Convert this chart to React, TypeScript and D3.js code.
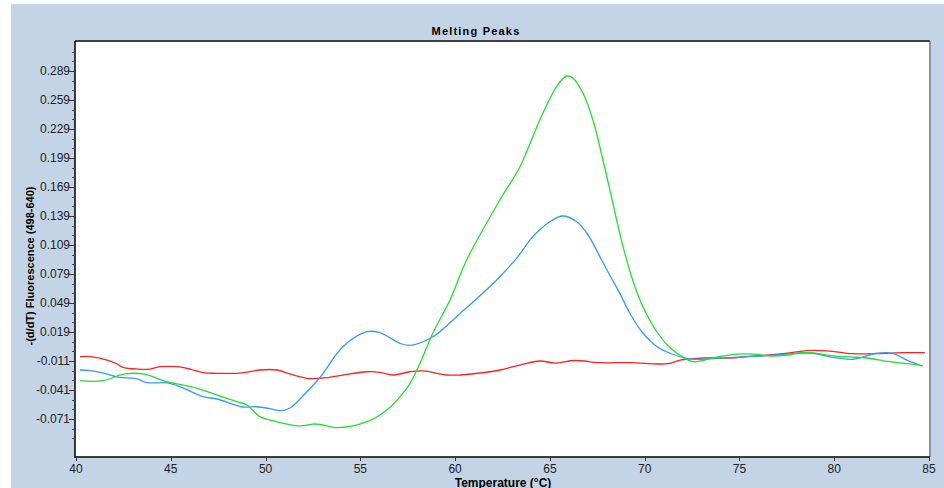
import React from "react";
import * as d3 from "d3";

const title = "Melting Peaks";
const xLabel = "Temperature (°C)";
const yLabel = "-(d/dT) Fluorescence (498-640)";
const xTicks = [40, 45, 50, 55, 60, 65, 70, 75, 80, 85];
const yTicks = [-0.071, -0.041, -0.011, 0.019, 0.049, 0.079, 0.109, 0.139, 0.169, 0.199, 0.229, 0.259, 0.289];

const redSeries: [number, number][] = [
  [40.21, -0.0065], [40.74, -0.0065], [41.64, -0.01], [42.16, -0.0141], [42.48, -0.0175],
  [43.22, -0.0193], [43.9, -0.0193], [44.43, -0.0169], [45.33, -0.0169], [46.01, -0.0193],
  [46.7, -0.0231], [47.44, -0.0237], [48.49, -0.0237], [49.18, -0.0221], [49.7, -0.0203],
  [50.6, -0.0203], [51.29, -0.0244], [52.18, -0.0289], [52.87, -0.0289], [53.24, -0.0283],
  [54.08, -0.0255], [55.35, -0.0221], [56.03, -0.0227], [56.72, -0.0255], [57.62, -0.0221],
  [58.3, -0.0213], [59.57, -0.0255], [60.25, -0.0255], [61.31, -0.0234], [62.36, -0.0203],
  [63.42, -0.0152], [64.47, -0.011], [65.26, -0.0131], [66.32, -0.0105], [67.64, -0.0127],
  [69.22, -0.0127], [71.22, -0.0138], [71.86, -0.01], [73.18, -0.0079], [74.49, -0.0079],
  [75.55, -0.0063], [76.6, -0.0048], [77.66, -0.0027], [78.56, -0.0003], [79.77, -0.0007],
  [80.93, -0.0034], [82.41, -0.0034], [83.57, -0.0024], [84.78, -0.0024],
];

const greenSeries: [number, number][] = [
  [40.21, -0.0314], [41.42, -0.0314], [42.58, -0.0244], [43.53, -0.0244], [44.8, -0.0324],
  [46.38, -0.0392], [47.44, -0.0462], [48.49, -0.0531], [49.02, -0.0565], [49.7, -0.0686],
  [50.23, -0.072], [51.81, -0.0782], [52.5, -0.0762], [52.87, -0.0765], [53.77, -0.08],
  [55.35, -0.0738], [56.4, -0.0617], [57.46, -0.0389], [57.99, -0.0203], [58.83, 0.018],
  [59.73, 0.0521], [60.61, 0.0935], [62.36, 0.1556], [63.42, 0.19], [64.47, 0.2383],
  [65.35, 0.2728], [65.88, 0.2838], [66.21, 0.2818], [66.74, 0.2662], [67.27, 0.2383],
  [67.8, 0.1969], [68.32, 0.1525], [68.85, 0.108], [69.38, 0.072], [69.91, 0.045],
  [70.65, 0.019], [71.33, 0.003], [72.02, -0.0069], [72.54, -0.0117], [73.81, -0.0069],
  [74.86, -0.0038], [75.71, -0.0038], [76.6, -0.0058], [77.5, -0.0048], [78.19, -0.0024],
  [78.87, -0.0027], [79.93, -0.0058], [80.98, -0.0069], [81.72, -0.0079], [82.93, -0.0117],
  [84.51, -0.0151],
];

const blueSeries: [number, number][] = [
  [40.21, -0.0203], [40.74, -0.021], [41.42, -0.0234], [42.16, -0.0275], [43.22, -0.0296],
  [43.74, -0.0334], [44.8, -0.0337], [45.49, -0.0376], [46.7, -0.0479], [47.44, -0.0503],
  [48.81, -0.0586], [49.55, -0.0583], [50.23, -0.0603], [50.76, -0.0624], [51.29, -0.0596],
  [51.97, -0.0472], [52.87, -0.0281], [54.08, 0.0038], [55.35, 0.0193], [56.03, 0.0183],
  [57.09, 0.0073], [57.62, 0.0051], [58.83, 0.0141], [59.57, 0.0258], [60.25, 0.038],
  [61.47, 0.0593], [62.36, 0.0762], [63.26, 0.0956], [64.1, 0.1176], [65.0, 0.1331],
  [65.69, 0.139], [66.42, 0.1331], [66.95, 0.1214], [67.64, 0.0969], [68.01, 0.0831],
  [68.69, 0.059], [69.22, 0.0384], [69.91, 0.0177], [70.65, 0.0038], [71.33, -0.003],
  [72.23, -0.0082], [72.91, -0.0092], [74.65, -0.0072], [76.44, -0.0055], [78.19, -0.003],
  [78.87, -0.003], [79.93, -0.0072], [80.98, -0.0092], [82.25, -0.003], [83.09, -0.003],
  [83.83, -0.01], [84.67, -0.0162],
];

const series = [
  { name: "red", color: "#ff2020", data: redSeries },
  { name: "blue", color: "#3399ff", data: blueSeries },
  { name: "green", color: "#22dd33", data: greenSeries },
];

export default function App() {
  const W = 944, H = 488;
  const L = 75, R = 929, T = 41, B = 457;
  const x = d3.scaleLinear().domain([40, 85]).range([L + 1, R]);
  const y = d3.scaleLinear().domain([-0.1103, 0.32]).range([B, T]);
  const line = d3.line<[number, number]>()
    .x((d) => x(d[0]))
    .y((d) => y(d[1]))
    .curve(d3.curveCatmullRom.alpha(0.5));
  const minor: number[] = [];
  for (let i = -10; i <= 30; i++) {
    const v = +(0.009 + i * 0.01).toFixed(3);
    if (v > -0.1103 && v < 0.32 && !yTicks.some((t) => Math.abs(t - v) < 1e-6)) minor.push(v);
  }
  const font = "'Liberation Sans', Arial, sans-serif";
  return (
    <svg width={W} height={H} style={{ position: "fixed", left: 0, top: 0 }} fontFamily={font}>
      <rect x={0} y={0} width={W} height={H} fill="#ffffff" />
      <rect x={11} y={4} width={W - 11} height={H - 4} fill="#c2d4e5" />
      <text x={476} y={35} textAnchor="middle" fontSize={11} fontWeight="bold" letterSpacing={1.2} fill="#000">
        {title}
      </text>
      <rect x={L} y={T} width={R - L} height={B - T} fill="#ffffff" />
      <clipPath id="plotclip">
        <rect x={L + 1} y={T + 1} width={R - L - 1} height={B - T - 1} />
      </clipPath>
      <g clipPath="url(#plotclip)">
        {series.map((s) => (
          <path key={s.name} d={line(s.data) || ""} fill="none" stroke={s.color} strokeWidth={1.3} />
        ))}
      </g>
      <line x1={L} x2={R + 1} y1={T} y2={T} stroke="#404040" strokeWidth={2} />
      <line x1={R + 1} x2={R + 1} y1={T} y2={B} stroke="#808080" strokeWidth={1.5} />
      <line x1={L} x2={L} y1={T} y2={B + 1} stroke="#000" strokeWidth={1.5} />
      <line x1={L} x2={R + 1} y1={B} y2={B} stroke="#000" strokeWidth={1.5} />
      {minor.map((v) => (
        <line key={"m" + v} x1={L - 3} x2={L} y1={Math.round(y(v)) + 0.5} y2={Math.round(y(v)) + 0.5} stroke="#444" />
      ))}
      {yTicks.map((v) => (
        <g key={"y" + v}>
          <line x1={L - 6} x2={L} y1={Math.round(y(v)) + 0.5} y2={Math.round(y(v)) + 0.5} stroke="#333" />
          <text x={L - 5} y={y(v) + 4} textAnchor="end" fontSize={12} fill="#222">
            {v.toFixed(3)}
          </text>
        </g>
      ))}
      {xTicks.map((v) => (
        <g key={"x" + v}>
          <line x1={Math.round(x(v)) + 0.5} x2={Math.round(x(v)) + 0.5} y1={B} y2={B + 4} stroke="#333" />
          <text x={x(v)} y={B + 16} textAnchor="middle" fontSize={12} fill="#222">
            {v}
          </text>
        </g>
      ))}
      <text x={503} y={487} textAnchor="middle" fontSize={12} fontWeight="bold" fill="#000">
        {xLabel}
      </text>
      <text
        transform={`translate(34, 266) rotate(-90)`}
        textAnchor="middle"
        fontSize={11}
        fontWeight="bold"
        fill="#000"
      >
        {yLabel}
      </text>
    </svg>
  );
}
